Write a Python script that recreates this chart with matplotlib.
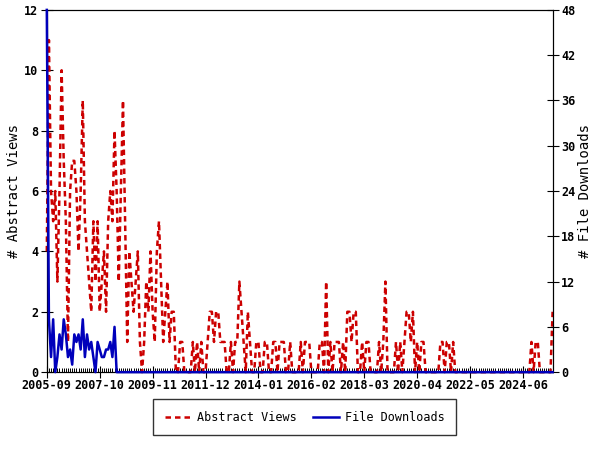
import matplotlib
matplotlib.use("Agg")
import matplotlib.pyplot as plt
import numpy as np
import pandas as pd
from matplotlib.ticker import MultipleLocator, FixedLocator

# monthly counts starting 2005-09
start = "2005-09"
abstract_views = [
    4, 11, 6, 5, 6, 3, 6, 10, 7, 5,
    1, 6, 7, 7, 6, 4, 6, 9, 5, 4,
    3, 2, 5, 3, 5, 2, 3, 4, 2, 5,
    6, 5, 8, 6, 3, 6, 9, 5, 1, 4,
    3, 2, 3, 4, 1, 0, 1, 3, 2, 4,
    2, 1, 4, 5, 3, 1, 2, 3, 1, 2,
    2, 0, 0, 1, 1, 0, 0, 0, 0, 1,
    0, 1, 0, 1, 0, 0, 1, 2, 2, 1,
    2, 2, 1, 1, 1, 0, 0, 1, 0, 1,
    1, 3, 2, 1, 0, 2, 1, 0, 0, 1,
    1, 0, 0, 1, 1, 0, 0, 1, 1, 0,
    1, 1, 1, 0, 0, 1, 0, 0, 0, 0,
    1, 0, 1, 1, 1, 0, 0, 0, 0, 1,
    1, 0, 3, 0, 1, 0, 1, 1, 1, 0,
    1, 0, 2, 2, 1, 2, 2, 0, 0, 1,
    0, 1, 1, 0, 0, 0, 0, 1, 0, 1,
    3, 0, 0, 0, 0, 1, 0, 1, 0, 1,
    2, 2, 1, 2, 0, 1, 0, 1, 1, 0,
    0, 0, 0, 0, 0, 0, 1, 1, 0, 1,
    1, 0, 1, 0, 0, 0, 0, 0, 0, 0,
    0, 0, 0, 0, 0, 0, 0, 0, 0, 0,
    0, 0, 0, 0, 0, 0, 0, 0, 0, 0,
    0, 0, 0, 0, 0, 0, 0, 0, 0, 1,
    0, 1, 1, 0, 0, 0, 0, 0, 0, 2,
]
file_downloads_head = [
    48, 7, 2, 7, 0, 2, 5, 3, 7, 5,
    2, 3, 1, 5, 4, 5, 3, 7, 2, 5,
    3, 4, 2, 0, 4, 3, 2, 2, 3, 3,
    4, 2, 6, 0,
]
file_downloads = file_downloads_head + [0] * (len(abstract_views) - len(file_downloads_head))

dates = pd.date_range(start, periods=len(abstract_views), freq="MS")
x = np.arange(len(dates))
tick_pos = x[::25]
tick_labels = [d.strftime("%Y-%m") for d in dates[::25]]

plt.rcParams["font.family"] = ["DejaVu Sans Mono"]
RED = "#cc0000"
BLUE = "#0000bb"

fig, ax = plt.subplots(figsize=(6, 4.5), dpi=100)
fig.subplots_adjust(left=0.078, right=0.921, top=0.978, bottom=0.173)

l1, = ax.plot(x, abstract_views, color=RED, lw=1.8, dashes=(2.2, 1.6),
              label="Abstract Views", clip_on=False)
ax.set_xlim(0, len(x) - 1)
ax.set_ylim(0, 12)
ax.yaxis.set_major_locator(MultipleLocator(2))
ax.set_ylabel("# Abstract Views", fontsize=10, labelpad=2)

ax2 = ax.twinx()
l2, = ax2.plot(x, file_downloads, color=BLUE, lw=1.8, label="File Downloads",
               clip_on=False, zorder=3)
ax2.set_ylim(0, 48)
ax2.yaxis.set_major_locator(MultipleLocator(6))
ax2.set_ylabel("# File Downloads", fontsize=10, rotation=90, labelpad=2)

ax.xaxis.set_major_locator(FixedLocator(tick_pos))
ax.set_xticklabels(tick_labels)
ax.xaxis.set_minor_locator(MultipleLocator(1))
ax.tick_params(axis="x", which="major", direction="inout", length=8, labelsize=8.5, pad=1)
ax.tick_params(axis="x", which="minor", direction="in", length=3, width=0.7)
ax.tick_params(axis="y", direction="inout", length=8, labelsize=8.5, pad=2)
ax2.tick_params(axis="y", direction="inout", length=8, labelsize=8.5, pad=2)
for lab in ax.get_xticklabels() + ax.get_yticklabels() + ax2.get_yticklabels():
    lab.set_fontweight("bold")

leg = fig.legend([l1, l2], ["Abstract Views", "File Downloads"], loc="center",
                 bbox_to_anchor=(0.508, 0.073), ncol=2, fontsize=8.5, frameon=True,
                 fancybox=False, edgecolor="black", borderpad=1.0, columnspacing=1.4,
                 handlelength=2.2, handletextpad=0.5)
leg.get_frame().set_linewidth(1.0)

fig.savefig("out.png", dpi=100)
